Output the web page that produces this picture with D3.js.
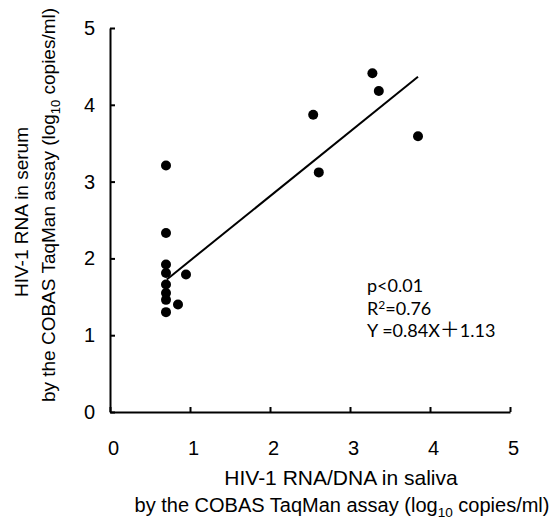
<!DOCTYPE html>
<html>
<head>
<meta charset="utf-8">
<script src="https://cdn.jsdelivr.net/npm/d3@7"></script>
<style>
  body { margin: 0; background: #fff; }
  svg { display: block; }
</style>
</head>
<body>
<div id="chart"></div>
<script>
// values
var salivaX = [3.28, 3.36, 2.54, 3.85, 2.61, 0.70, 0.70, 0.70, 0.70, 0.95, 0.70, 0.70, 0.70, 0.85, 0.70];
var serumY  = [4.41, 4.18, 3.87, 3.59, 3.12, 3.21, 2.33, 1.92, 1.81, 1.79, 1.66, 1.55, 1.46, 1.40, 1.30];
var xTicks = [0, 1, 2, 3, 4, 5];
var yTicks = [0, 1, 2, 3, 4, 5];
// regression line, Y = 0.84X + 1.13, drawn over the data range
var fitSlope = 0.84, fitIntercept = 1.13;
var fitX = [0.71, 3.85];
var statLines = ["p<0.01", "R2=0.76", "Y =0.84X\uFF0B1.13"];

var width = 550, height = 523;

var svg = d3.select("#chart")
    .append("svg")
    .attr("width", width)
    .attr("height", height);

var x = d3.scaleLinear().domain([0, 5]).range([110, 510]);
var y = d3.scaleLinear().domain([0, 5]).range([412, 28]);

var axisFont = "'Liberation Sans', Arial, sans-serif";

// x axis, ticks pointing inward
var xAxis = svg.append("g")
    .attr("transform", "translate(0," + y(0) + ")")
    .call(d3.axisBottom(x).tickValues(xTicks).tickFormat(d3.format("d"))
        .tickSize(-5).tickSizeOuter(0).tickPadding(29));

// y axis, ticks pointing inward
var yAxis = svg.append("g")
    .attr("transform", "translate(" + x(0) + ",0)")
    .call(d3.axisLeft(y).tickValues(yTicks).tickFormat(d3.format("d"))
        .tickSize(-5).tickSizeOuter(0).tickPadding(15));

svg.selectAll(".domain, .tick line")
    .attr("stroke", "#000")
    .attr("stroke-width", 2);
svg.selectAll(".tick text")
    .attr("fill", "#000")
    .style("font-family", axisFont)
    .style("font-size", "20px");
xAxis.selectAll(".tick text").attr("dx", 3);

// fit line
svg.append("path")
    .datum(fitX)
    .attr("fill", "none")
    .attr("stroke", "#000")
    .attr("stroke-width", 2)
    .attr("d", d3.line()
        .x(function (d) { return x(d); })
        .y(function (d) { return y(fitSlope * d + fitIntercept); }));

// points
svg.append("g")
    .selectAll("circle")
    .data(salivaX)
    .enter()
    .append("circle")
    .attr("cx", function (d) { return x(d); })
    .attr("cy", function (d, i) { return y(serumY[i]); })
    .attr("r", 5)
    .attr("fill", "#000");

// axis titles
function logTitle(sel) {
    sel.append("tspan").text("by the COBAS TaqMan assay (log");
    sel.append("tspan").attr("font-size", "0.68em").attr("dy", 5).text("10");
    sel.append("tspan").attr("dy", -5).text(" copies/ml)");
}

var xTitle = svg.append("g")
    .style("font-family", axisFont)
    .attr("text-anchor", "middle");
xTitle.append("text").attr("x", 341).attr("y", 485)
    .style("font-size", "21px")
    .text("HIV-1 RNA/DNA in saliva");
xTitle.append("text").attr("x", 342).attr("y", 512)
    .style("font-size", "20px")
    .call(logTitle);

var yTitle = svg.append("g")
    .style("font-family", axisFont)
    .style("font-size", "19px")
    .attr("text-anchor", "middle");
yTitle.append("text")
    .attr("transform", "translate(28,212) rotate(-90)")
    .text("HIV-1 RNA in serum");
yTitle.append("text")
    .attr("transform", "translate(55,205) rotate(-90)")
    .call(logTitle);

// stats
var stats = svg.append("g")
    .style("font-family", "Lato, 'Open Sans', sans-serif")
    .style("font-size", "18px");
stats.selectAll("text")
    .data(statLines)
    .enter()
    .append("text")
    .attr("x", 367)
    .attr("y", function (d, i) { return 292 + i * 22.5; })
    .each(function (d) {
        var t = d3.select(this);
        if (d.indexOf("R2") === 0) {
            t.append("tspan").text("R");
            t.append("tspan").attr("font-size", "12px").attr("dy", -6).text("2");
            t.append("tspan").attr("dy", 6).text(d.slice(2));
        } else if (d.indexOf("\uFF0B") >= 0) {
            var parts = d.split("\uFF0B");
            t.append("tspan").text(parts[0]);
            t.append("tspan").style("font-family", "'Noto Sans CJK JP', sans-serif")
                .style("font-size", "20px").text("\uFF0B");
            t.append("tspan").text(parts[1]);
        } else {
            t.text(d);
        }
    });
</script>
</body>
</html>
